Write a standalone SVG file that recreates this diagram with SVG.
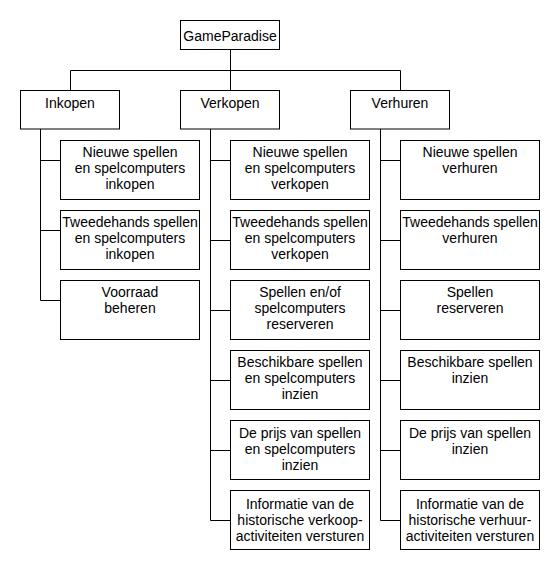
<svg xmlns="http://www.w3.org/2000/svg" width="560" height="570" viewBox="0 0 560 570">
<style>
rect{fill:#fff;stroke:#000;stroke-width:1}
.c{fill:none;stroke:#000;stroke-width:1}
text{font-family:"Liberation Sans",Arial,sans-serif;font-size:14px;fill:#000;text-anchor:middle}
</style>
<rect x="0" y="0" width="560" height="570" style="stroke:none"/>
<g id="connectors">
<path class="c" d="M230.5 49.5V70.5M70.5 70.5H400.5M70.5 70.5V90.5M230.5 70.5V90.5M400.5 70.5V90.5"/>
<path class="c" d="M40.5 129V300.5H60.5M40.5 160.5H60.5M40.5 230.5H60.5"/>
<path class="c" d="M210.5 129V520.5H230.5M210.5 160.5H230.5M210.5 240.5H230.5M210.5 310.5H230.5M210.5 380.5H230.5M210.5 450.5H230.5"/>
<path class="c" d="M380.5 129V520.5H400.5M380.5 160.5H400.5M380.5 240.5H400.5M380.5 310.5H400.5M380.5 380.5H400.5M380.5 450.5H400.5"/>
</g>
<g id="root"><rect x="180.5" y="20.5" width="99" height="29"/><text x="230" y="41">GameParadise</text></g>
<g id="inkopen"><rect x="20.5" y="90.5" width="99" height="38.5"/><text x="70" y="108">Inkopen</text></g>
<g id="verkopen"><rect x="180.5" y="90.5" width="99" height="38.5"/><text x="230" y="108">Verkopen</text></g>
<g id="verhuren"><rect x="350.5" y="90.5" width="99" height="38.5"/><text x="400" y="108">Verhuren</text></g>

<g id="ink1"><rect x="60.5" y="140.5" width="139" height="59"/><text x="130" y="157">Nieuwe spellen</text><text x="130" y="173">en spelcomputers</text><text x="130" y="189">inkopen</text></g>
<g id="ink2"><rect x="60.5" y="210.5" width="139" height="59"/><text x="130" y="227">Tweedehands spellen</text><text x="130" y="243">en spelcomputers</text><text x="130" y="259">inkopen</text></g>
<g id="ink3"><rect x="60.5" y="280.5" width="139" height="59"/><text x="130" y="297">Voorraad</text><text x="130" y="313">beheren</text></g>

<g id="verk1"><rect x="230.5" y="140.5" width="139" height="59"/><text x="300" y="157">Nieuwe spellen</text><text x="300" y="173">en spelcomputers</text><text x="300" y="189">verkopen</text></g>
<g id="verk2"><rect x="230.5" y="210.5" width="139" height="59"/><text x="300" y="227">Tweedehands spellen</text><text x="300" y="243">en spelcomputers</text><text x="300" y="259">verkopen</text></g>
<g id="verk3"><rect x="230.5" y="280.5" width="139" height="59"/><text x="300" y="297">Spellen en/of</text><text x="300" y="313">spelcomputers</text><text x="300" y="329">reserveren</text></g>
<g id="verk4"><rect x="230.5" y="350.5" width="139" height="59"/><text x="300" y="367">Beschikbare spellen</text><text x="300" y="383">en spelcomputers</text><text x="300" y="399">inzien</text></g>
<g id="verk5"><rect x="230.5" y="420.5" width="139" height="59"/><text x="300" y="438">De prijs van spellen</text><text x="300" y="454">en spelcomputers</text><text x="300" y="470">inzien</text></g>
<g id="verk6"><rect x="230.5" y="490.5" width="139" height="59"/><text x="300" y="509">Informatie van de</text><text x="300" y="525">historische verkoop-</text><text x="300" y="541">activiteiten versturen</text></g>

<g id="verh1"><rect x="400.5" y="140.5" width="139" height="59"/><text x="470" y="157">Nieuwe spellen</text><text x="470" y="173">verhuren</text></g>
<g id="verh2"><rect x="400.5" y="210.5" width="139" height="59"/><text x="470" y="227">Tweedehands spellen</text><text x="470" y="243">verhuren</text></g>
<g id="verh3"><rect x="400.5" y="280.5" width="139" height="59"/><text x="470" y="297">Spellen</text><text x="470" y="313">reserveren</text></g>
<g id="verh4"><rect x="400.5" y="350.5" width="139" height="59"/><text x="470" y="367">Beschikbare spellen</text><text x="470" y="383">inzien</text></g>
<g id="verh5"><rect x="400.5" y="420.5" width="139" height="59"/><text x="470" y="438">De prijs van spellen</text><text x="470" y="454">inzien</text></g>
<g id="verh6"><rect x="400.5" y="490.5" width="139" height="59"/><text x="470" y="509">Informatie van de</text><text x="470" y="525">historische verhuur-</text><text x="470" y="541">activiteiten versturen</text></g>
</svg>
